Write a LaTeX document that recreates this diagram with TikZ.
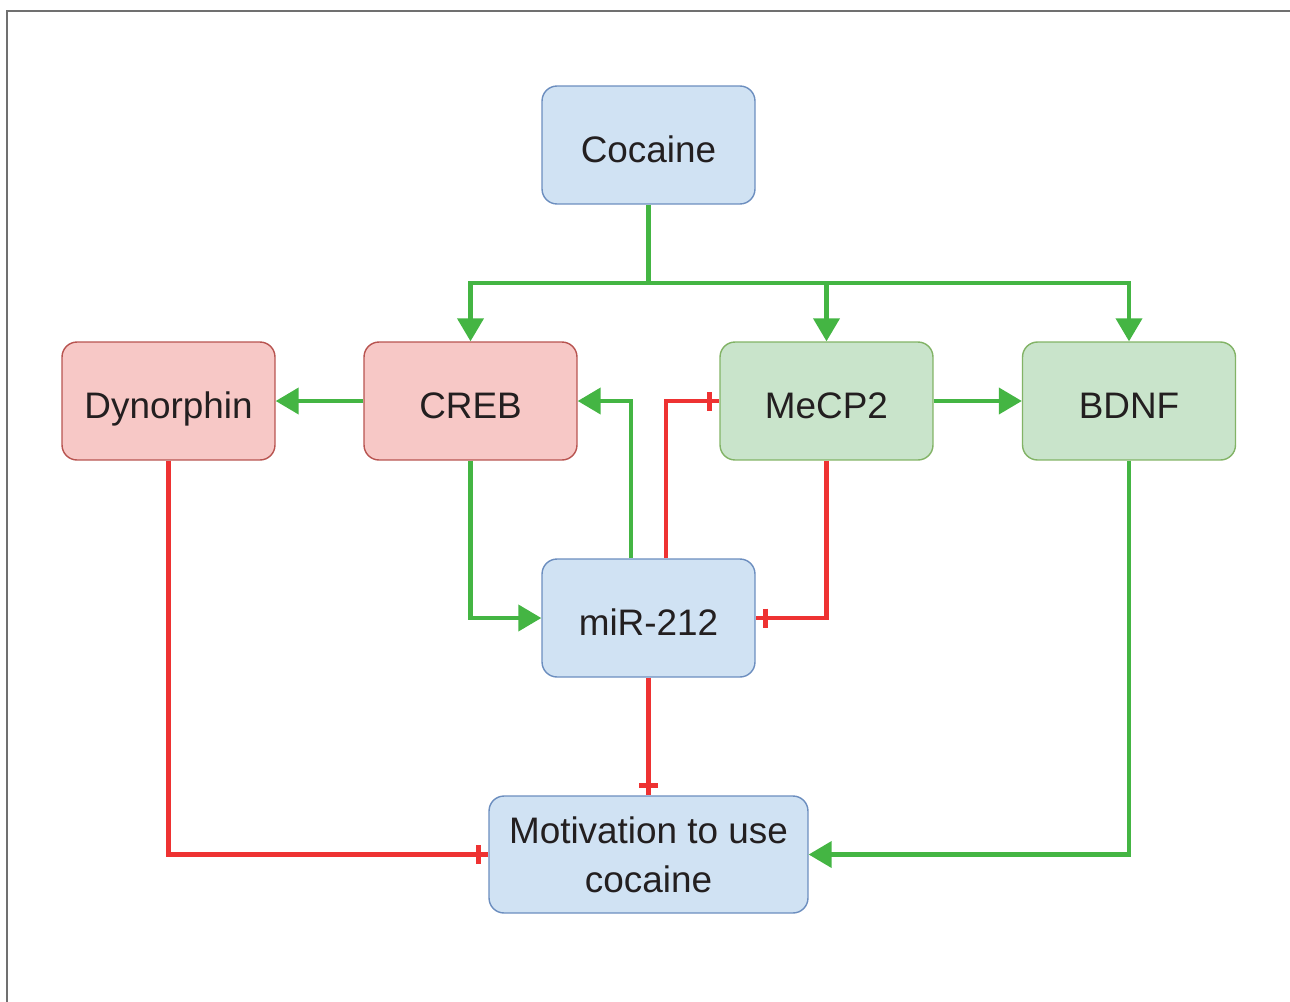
\documentclass[tikz,border=0pt]{standalone}
\usepackage{fontspec}
\setmainfont{Liberation Sans}
\usetikzlibrary{arrows.meta,decorations.markings}

\definecolor{bluefill}{HTML}{D0E2F3}
\definecolor{blueline}{HTML}{6C8EBF}
\definecolor{redfill}{HTML}{F7C8C6}
\definecolor{redline}{HTML}{B85450}
\definecolor{greenfill}{HTML}{C9E4CB}
\definecolor{greenline}{HTML}{82B366}
\definecolor{actgreen}{RGB}{68,181,67}
\definecolor{inhred}{RGB}{238,50,50}
\definecolor{textdark}{HTML}{231F20}
\definecolor{framegray}{HTML}{707070}

\begin{document}
\begin{tikzpicture}[x=0.02cm,y=-0.02cm,
  box/.style={draw, rounded corners=0.3cm, minimum width=4.26cm, minimum height=2.36cm,
    line width=0.8pt, font=\fontsize{21}{28}\selectfont, text=textdark, align=center},
  oneline/.style={text height=22pt, text depth=1.6pt},
  bluebox/.style={box, fill=bluefill, draw=blueline},
  redbox/.style={box, oneline, fill=redfill, draw=redline},
  greenbox/.style={box, oneline, fill=greenfill, draw=greenline},
  link/.style={draw=actgreen, line width=2.3pt},
  act/.style={link, -{Triangle[length=0.46cm,width=0.52cm]}},
  inh/.style={draw=inhred, line width=2.3pt, postaction={decorate},
    decoration={markings, mark=at position -0.2cm with
      {\draw[inhred, line width=2.8pt] (0,-0.19cm) -- (0,0.19cm);}}}
  ]
  \useasboundingbox (0,0) rectangle (1290,1001);
  \draw[framegray, line width=1.1pt] (7,1020) -- (7,11) -- (1310,11);

  % nodes
  \node[bluebox, oneline] (cocaine) at (648.5,145) {Cocaine};
  \node[redbox] (dyn) at (168.5,401) {Dynorphin};
  \node[redbox] (creb) at (470.5,401) {CREB};
  \node[greenbox] (mecp2) at (826.5,401) {MeCP2};
  \node[greenbox] (bdnf) at (1129,401) {BDNF};
  \node[bluebox, oneline] (mir) at (648.5,618) {miR-212};
  \node[bluebox, minimum width=6.38cm, minimum height=2.34cm] (mot) at (648.5,854.5)
    {Motivation to use\\cocaine};
  \coordinate (split) at (648.5,283);

  % activation
  \draw[link] (cocaine) -- (split);
  \draw[act] (split) -| (creb);
  \draw[act] (split) -| (mecp2);
  \draw[act] (split) -| (bdnf);
  \draw[act] (creb) -- (dyn);
  \draw[act] (mecp2) -- (bdnf);
  \draw[act] ([xshift=-0.35cm]mir.north) |- (creb);
  \draw[act] (creb) |- (mir);
  \draw[act] (bdnf) |- (mot);

  % inhibition
  \draw[inh] ([xshift=0.35cm]mir.north) |- (mecp2);
  \draw[inh] (mecp2) |- (mir);
  \draw[inh] (mir) -- (mot);
  \draw[inh] (dyn) |- (mot);
\end{tikzpicture}
\end{document}
